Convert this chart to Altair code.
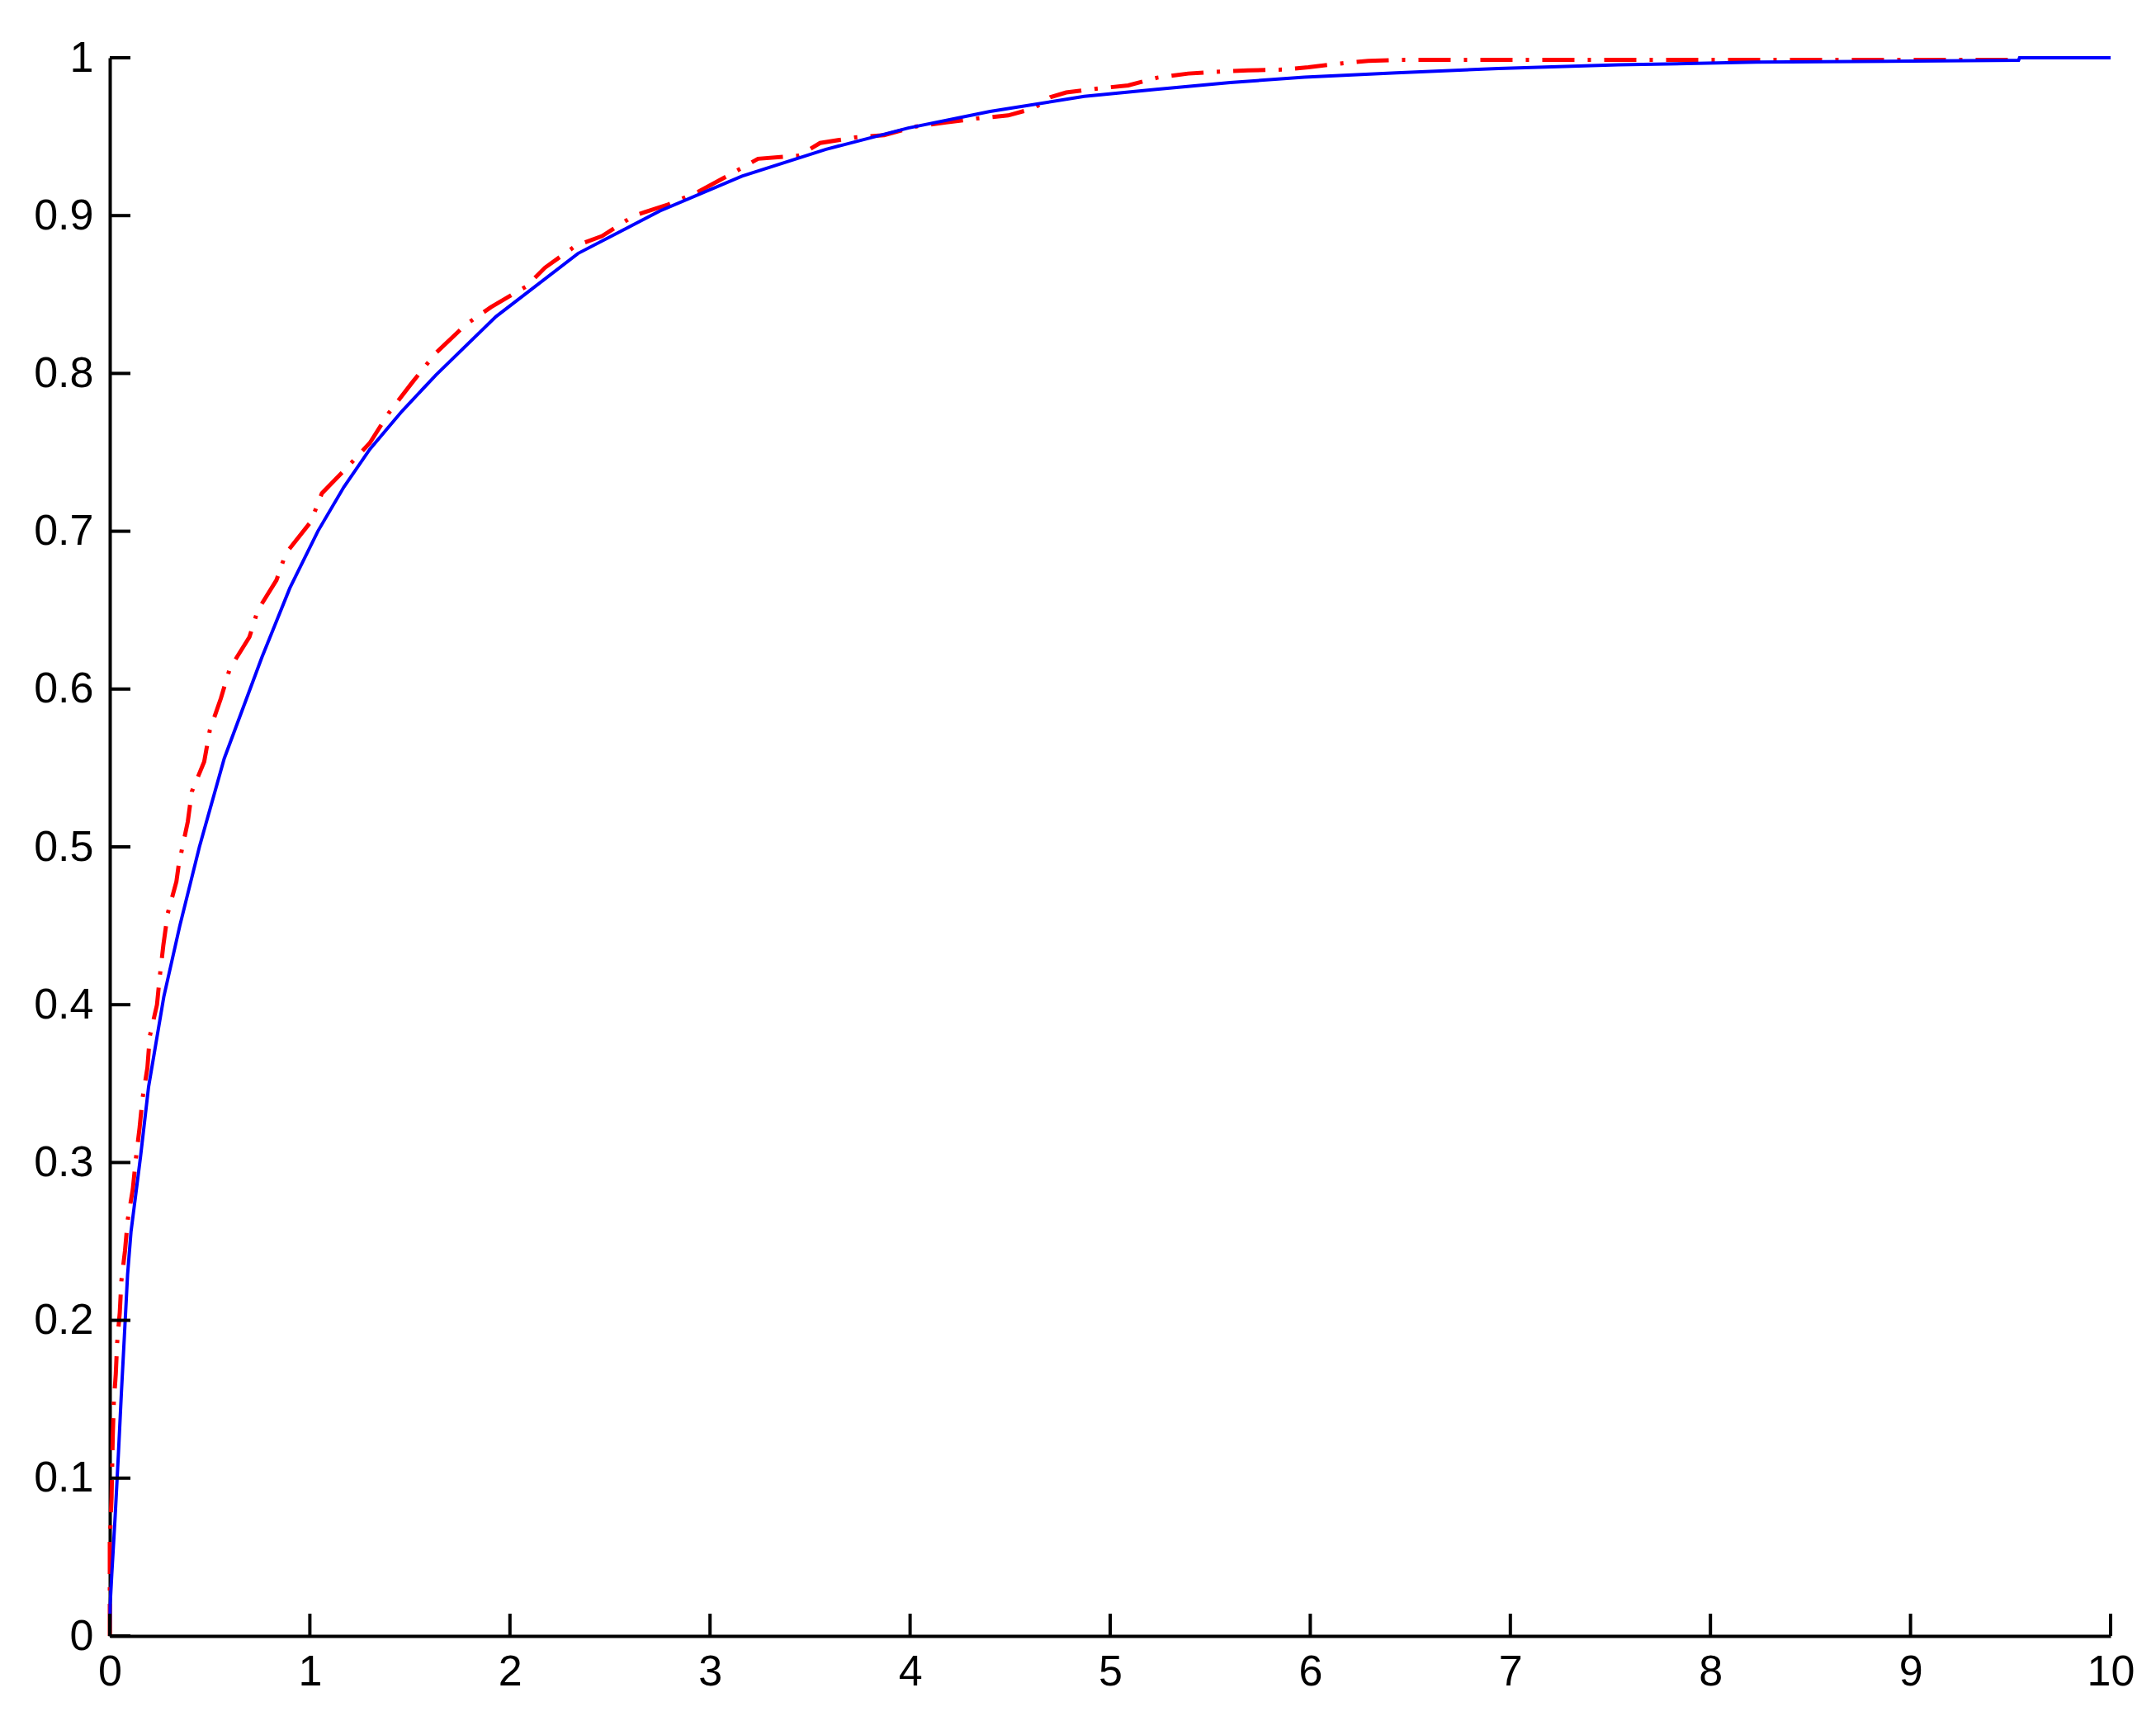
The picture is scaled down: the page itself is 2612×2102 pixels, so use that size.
import altair as alt
import pandas as pd

# Blue curve (theoretical CDF)
blue_x = [0.0, 0.002, 0.01, 0.027, 0.043, 0.058, 0.073, 0.089, 0.106, 0.122, 0.139,
          0.154, 0.194, 0.27, 0.35, 0.448, 0.572, 0.76, 0.9, 1.04, 1.17, 1.3, 1.46,
          1.63, 1.93, 2.34, 2.75, 3.16, 3.58, 3.99, 4.4, 4.87, 5.23, 5.6, 5.97, 6.43,
          6.94, 7.54, 8.23, 9.54, 9.545, 10.0]
blue_y = [0.0, 0.02, 0.039, 0.076, 0.115, 0.154, 0.19, 0.229, 0.256, 0.272, 0.289,
          0.304, 0.348, 0.405, 0.45, 0.50, 0.556, 0.62, 0.664, 0.70, 0.728, 0.752, 0.776,
          0.799, 0.836, 0.876, 0.903, 0.925, 0.942, 0.9555, 0.966, 0.9755, 0.98, 0.9843,
          0.9877, 0.9904, 0.9932, 0.9955, 0.9972, 0.9984, 1.0, 1.0]

red_x = [0.0, 0.0, 0.0, 0.009, 0.015, 0.02, 0.03, 0.037, 0.05, 0.058, 0.076, 0.09,
         0.115, 0.13, 0.149, 0.163, 0.188, 0.2, 0.236, 0.25, 0.268, 0.29, 0.333,
         0.345, 0.39, 0.41, 0.472, 0.5, 0.555, 0.6, 0.698, 0.74, 0.833, 0.88, 1.005,
         1.06, 1.19, 1.3, 1.395, 1.51, 1.63, 1.78, 1.905, 2.08, 2.175, 2.33, 2.46,
         2.62, 2.79, 2.94, 3.10, 3.24, 3.445, 3.55, 3.725, 3.87, 4.03, 4.18, 4.33,
         4.49, 4.62, 4.7, 4.78, 4.93, 5.09, 5.235, 5.39, 5.55, 5.69, 5.86, 5.99,
         6.16, 6.29, 6.45, 9.54, 9.54]
red_y = [0.0, 0.03, 0.06, 0.088, 0.127, 0.1475, 0.166, 0.186, 0.205, 0.225, 0.244,
         0.264, 0.283, 0.302, 0.322, 0.34, 0.36, 0.38, 0.40, 0.418, 0.438, 0.458,
         0.478, 0.489, 0.516, 0.535, 0.554, 0.574, 0.594, 0.613, 0.633, 0.65, 0.669,
         0.686, 0.706, 0.724, 0.741, 0.756, 0.775, 0.794, 0.813, 0.831, 0.842, 0.855,
         0.867, 0.881, 0.887, 0.90, 0.907, 0.915, 0.926, 0.936, 0.938, 0.946, 0.9495,
         0.951, 0.9565, 0.959, 0.9615, 0.9635, 0.968, 0.975, 0.978, 0.9804, 0.9825,
         0.9874, 0.99, 0.9913, 0.992, 0.9925, 0.994, 0.9965, 0.998, 0.9987, 0.9987, 1.0]

x_ticks = [0, 1, 2, 3, 4, 5, 6, 7, 8, 9, 10]
y_ticks = [0, 0.1, 0.2, 0.3, 0.4, 0.5, 0.6, 0.7, 0.8, 0.9, 1]

W, H = 2424, 1912
FONT = "Liberation Sans"

blue_df = pd.DataFrame({"x": blue_x, "y": blue_y, "i": list(range(len(blue_x)))})
red_df = pd.DataFrame({"x": red_x, "y": red_y, "i": list(range(len(red_x)))})
xt_df = pd.DataFrame({"x": x_ticks})
yt_df = pd.DataFrame({"y": y_ticks})

xs = alt.Scale(domain=[0, 10], nice=False, zero=False)
ys = alt.Scale(domain=[0, 1], nice=False, zero=False)

x_axis = alt.Axis(values=x_ticks, format="d", grid=False, ticks=False, tickSize=0,
                  domainColor="black", domainWidth=4, labelFont=FONT,
                  labelFontSize=52, labelColor="black", labelPadding=18,
                  labelFlush=False, labelOverlap=False, labelBaseline="top",
                  title=None)
y_axis = alt.Axis(values=y_ticks, format=".1~f", grid=False, ticks=False, tickSize=0,
                  domainColor="black", domainWidth=4, labelFont=FONT,
                  labelFontSize=52, labelColor="black", labelPadding=20,
                  labelFlush=False, labelOverlap=False, labelBaseline="middle",
                  title=None)

red = alt.Chart(red_df).mark_line(color="#ff0000", strokeWidth=5,
                                  strokeDash=[39, 16, 4, 16]).encode(
    x=alt.X("x:Q", scale=xs, axis=x_axis),
    y=alt.Y("y:Q", scale=ys, axis=y_axis),
    order="i:Q",
)

blue = alt.Chart(blue_df).mark_line(color="#0000ff", strokeWidth=4).encode(
    x=alt.X("x:Q", scale=xs, axis=x_axis),
    y=alt.Y("y:Q", scale=ys, axis=y_axis),
    order="i:Q",
)

xticks = alt.Chart(xt_df).mark_rule(color="black", strokeWidth=4).encode(
    x=alt.X("x:Q", scale=xs, axis=x_axis),
    y=alt.value(H),
    y2=alt.value(H - 27),
)

yticks = alt.Chart(yt_df).mark_rule(color="black", strokeWidth=4).encode(
    y=alt.Y("y:Q", scale=ys, axis=y_axis),
    x=alt.value(0),
    x2=alt.value(25),
)

chart = alt.layer(red, blue, xticks, yticks).properties(
    width=W,
    height=H,
    autosize=alt.AutoSizeParams(type="none"),
    padding={"left": 125, "top": 62, "right": 40, "bottom": 110},
    background="white",
).configure_view(stroke=None)

chart.save("out.html", embed_options={"renderer": "svg", "actions": False})
